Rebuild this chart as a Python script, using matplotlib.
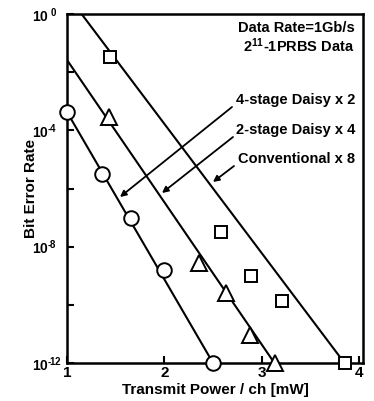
import matplotlib
matplotlib.use("Agg")
import matplotlib.pyplot as plt
from matplotlib.ticker import FixedLocator, FixedFormatter, NullFormatter
import matplotlib.transforms as mtransforms
import numpy as np

plt.rcParams['font.family'] = ['Liberation Sans', 'DejaVu Sans']
plt.rcParams['font.weight'] = 'bold'
plt.rcParams['mathtext.fontset'] = 'custom'
plt.rcParams['mathtext.rm'] = 'Liberation Sans:bold'
plt.rcParams['mathtext.bf'] = 'Liberation Sans:bold'
plt.rcParams['mathtext.it'] = 'Liberation Sans:bold'
plt.rcParams['mathtext.default'] = 'regular'

# Data (BER as log10 values)
conv_x = [1.0, 1.36, 1.66, 2.0, 2.5]
conv_logber = [-3.37, -5.5, -7.03, -8.8, -12.0]
conv_fit_x = [1.0, 2.5]
conv_fit_logber = [-3.37, -12.0]

d2_x = [1.43, 2.36, 2.63, 2.88, 3.14]
d2_logber = [-3.55, -8.55, -9.58, -11.04, -12.0]
d2_fit_x = [1.0, 3.13]
d2_fit_logber = [-1.58, -12.0]

d4_x = [1.44, 2.58, 2.89, 3.21, 3.85]
d4_logber = [-1.49, -7.51, -9.01, -9.86, -12.0]
d4_fit_x = [1.15, 3.85]
d4_fit_logber = [0.0, -12.0]

xticks = [1, 2, 3, 4]
yticks_major = [1e0, 1e-4, 1e-8, 1e-12]
ytick_labels = ['10$^{\\ 0}$', '10$^{\u2010\\!4}$', '10$^{\u2010\\!8}$', '10$^{\u2010\\!12}$']
yticks_minor = [1e-2, 1e-6, 1e-10]

labels = ['4-stage Daisy x 2', '2-stage Daisy x 4', 'Conventional x 8']

fig = plt.figure(figsize=(3.74, 4.01), dpi=100)
ax = fig.add_axes([67/374, 1-363/401, (363-67)/374, (363-14)/401])

def p(v):
    return 10.0 ** np.array(v)

lw = 1.5
ax.plot(conv_fit_x, p(conv_fit_logber), color='black', lw=lw, zorder=2)
ax.plot(d2_fit_x, p(d2_fit_logber), color='black', lw=lw, zorder=2)
ax.plot(d4_fit_x, p(d4_fit_logber), color='black', lw=lw, zorder=2)

mk = dict(linestyle='none', markerfacecolor='white', markeredgecolor='black',
          markeredgewidth=1.4, clip_on=False, zorder=5)
ax.plot(conv_x, p(conv_logber), marker='o', markersize=10.5, **mk)
ax.plot(d2_x, p(d2_logber), marker='^', markersize=11, **mk)
ax.plot(d4_x, p(d4_logber), marker='s', markersize=8.5, **mk)

ax.set_yscale('log')
ax.set_xlim(1, 4.04)
ax.set_ylim(1e-12, 1e0)

ax.yaxis.set_major_locator(FixedLocator(yticks_major))
ax.yaxis.set_major_formatter(FixedFormatter(ytick_labels))
ax.yaxis.set_minor_locator(FixedLocator(yticks_minor))
ax.yaxis.set_minor_formatter(NullFormatter())
ax.xaxis.set_major_locator(FixedLocator(xticks))
ax.set_xticklabels([str(t) for t in xticks])
ax.xaxis.set_minor_locator(FixedLocator([]))

ax.tick_params(axis='both', which='both', direction='in', length=5, width=1.5,
               top=False, right=False)
ax.tick_params(axis='y', labelsize=10, pad=1)
ax.tick_params(axis='x', labelsize=11, pad=2)
shift = mtransforms.ScaledTranslation(-34/100, 0, fig.dpi_scale_trans)
for lab in ax.get_yticklabels():
    lab.set_fontweight('bold')
    lab.set_horizontalalignment('left')
    lab.set_transform(lab.get_transform() + shift)
for lab in ax.get_xticklabels():
    lab.set_fontweight('bold')

for s in ax.spines.values():
    s.set_linewidth(1.8)

ax.set_xlabel('Transmit Power / ch [mW]', fontsize=11, fontweight='bold')
ax.set_ylabel('Bit Error Rate', fontsize=11, fontweight='bold')
ax.xaxis.set_label_coords(0.5, (363-390)/349)
ax.yaxis.set_label_coords((31-67)/296, (363-188)/349)
ax.xaxis.label.set_va('center')
ax.yaxis.label.set_va('center')

def fpx(x, y):
    return (x/374, 1-y/401)

fs = 10.5
ax.text(*fpx(355, 28), 'Data Rate=1Gb/s', transform=fig.transFigure,
        ha='right', va='center', fontsize=fs, fontweight='bold')
ax.text(*fpx(355, 46), r'2$^{11}$-1PRBS Data', transform=fig.transFigure,
        ha='right', va='center', fontsize=fs, fontweight='bold')

text_y = [100, 130, 159]
arrow_start = [(232, 107), (233, 137), (234, 166)]
arrow_end = [(120, 197), (162, 193), (213, 182)]
for lab, ty, st, en in zip(labels, text_y, arrow_start, arrow_end):
    ax.text(*fpx(355, ty), lab, transform=fig.transFigure, ha='right', va='center',
            fontsize=fs, fontweight='bold')
    ax.annotate('', xy=fpx(*en), xycoords='figure fraction',
                xytext=fpx(*st), textcoords='figure fraction',
                arrowprops=dict(arrowstyle='-|>', color='black', lw=1.3,
                                mutation_scale=9, shrinkA=0, shrinkB=0))

fig.savefig('out.png', dpi=100)
